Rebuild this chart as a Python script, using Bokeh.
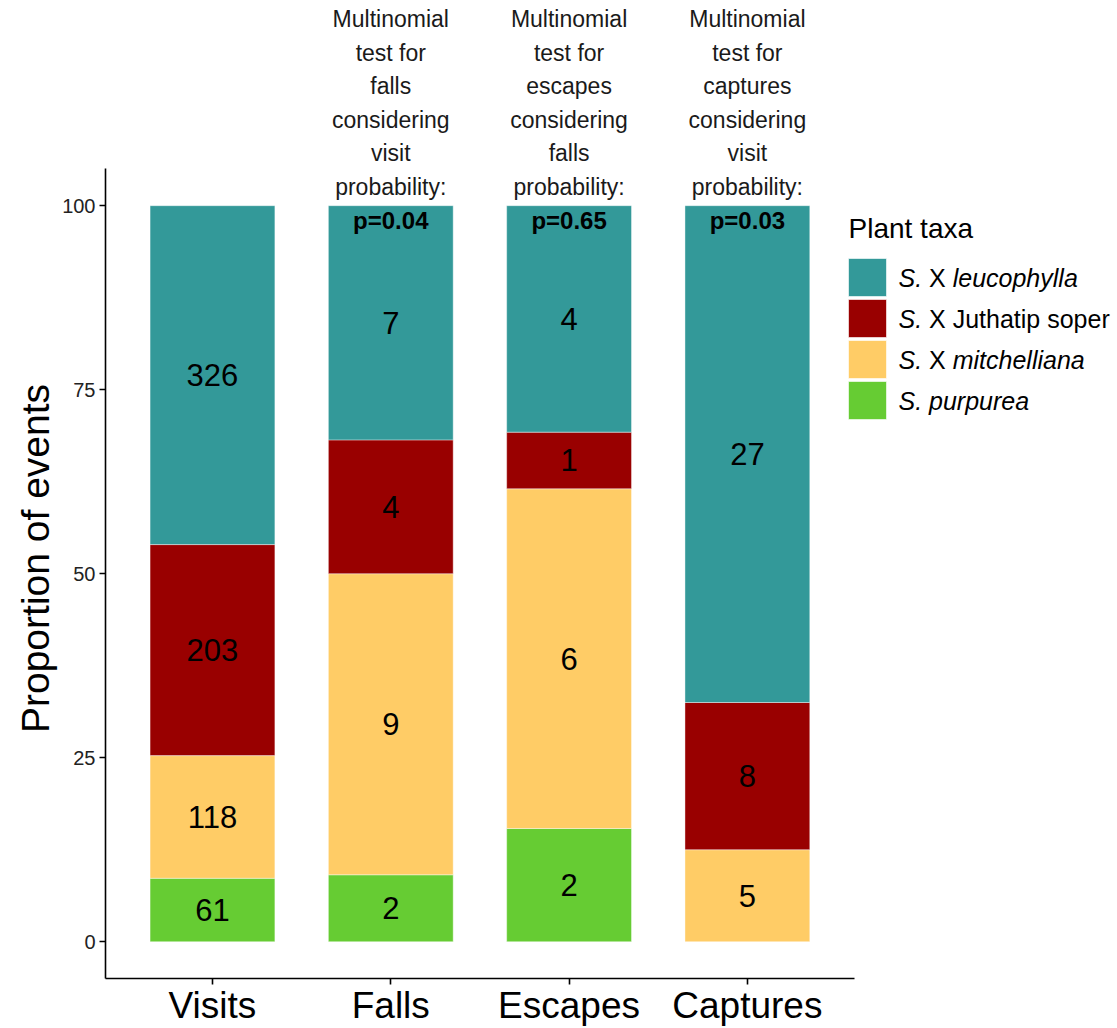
import numpy as np
from bokeh.plotting import figure
from bokeh.models import ColumnDataSource, Range1d, FixedTicker, Title
from bokeh.core.properties import value
from bokeh.embed import file_html
from bokeh.resources import INLINE

# ---------------- data ----------------
categories = ["Visits", "Falls", "Escapes", "Captures"]
purpurea = [61, 2, 2, 0]
mitchelliana = [118, 9, 6, 5]
juthatip = [203, 4, 1, 8]
leucophylla = [326, 7, 4, 27]
colors = {"purpurea": "#66CC33", "mitchelliana": "#FFCC66", "juthatip": "#990000", "leucophylla": "#339999"}
p_values = ["", "p=0.04", "p=0.65", "p=0.03"]
test_lines = [
    [],
    ["Multinomial", "test for", "falls", "considering", "visit", "probability:"],
    ["Multinomial", "test for", "escapes", "considering", "falls", "probability:"],
    ["Multinomial", "test for", "captures", "considering", "visit", "probability:"],
]
y_ticks = [0, 25, 50, 75, 100]
y_title = "Proportion of events"
legend_title = "Plant taxa"

FONT = "Liberation Sans"

# ---------------- layout constants (pixels) ----------------
W, H = 1117, 1028
LEFT = 105          # frame left (y axis line)
BOTTOM_BORDER = 50  # space for x tick labels
FRAME_W = W - LEFT
FRAME_H = H - BOTTOM_BORDER
PX_X = 178.3        # pixels per category step
PX_Y = 7.36         # pixels per percentage point

x_lo, y_lo = 0.4, -5.0
x_hi = x_lo + FRAME_W / PX_X
y_hi = y_lo + FRAME_H / PX_Y

def px2x(px):
    return x_lo + (px - LEFT) / PX_X

def px2y(py):
    return y_lo + (FRAME_H - py) / PX_Y

# ---------------- derived ----------------
xs = np.arange(1, len(categories) + 1)
stack_order = ["purpurea", "mitchelliana", "juthatip", "leucophylla"]
counts = {"purpurea": np.array(purpurea), "mitchelliana": np.array(mitchelliana),
          "juthatip": np.array(juthatip), "leucophylla": np.array(leucophylla)}
totals = sum(counts.values())
props = {k: 100.0 * v / totals for k, v in counts.items()}

src = ColumnDataSource(dict(x=xs, **props))

p = figure(width=W, height=H, x_range=Range1d(x_lo, x_hi), y_range=Range1d(y_lo, y_hi),
           output_backend="svg", toolbar_location=None,
           min_border_left=LEFT, min_border_right=0, min_border_top=0,
           min_border_bottom=BOTTOM_BORDER)
p.outline_line_color = None
p.xgrid.visible = False
p.ygrid.visible = False

p.vbar_stack(stack_order, x="x", width=0.7, source=src,
             color=[colors[k] for k in stack_order],
             line_color="white", line_alpha=0.5, line_width=0.8)

# count labels in the middle of each segment
lx, ly, lt = [], [], []
base = np.zeros(len(categories))
for k in stack_order:
    for i in range(len(categories)):
        if counts[k][i] > 0:
            lx.append(xs[i])
            ly.append(base[i] + props[k][i] / 2)
            lt.append(str(counts[k][i]))
    base = base + props[k]
p.text(x="x", y="y", text="t", source=ColumnDataSource(dict(x=lx, y=ly, t=lt)),
       text_font=value(FONT), text_font_size=value("31px"), text_color="black",
       text_align="center", text_baseline="middle")

# p-values (bold, at top of bars)
px_, py_, pt_ = [], [], []
for i, pv in enumerate(p_values):
    if pv:
        px_.append(xs[i]); py_.append(98.0); pt_.append(pv)
p.text(x="x", y="y", text="t", source=ColumnDataSource(dict(x=px_, y=py_, t=pt_)),
       text_font=value(FONT), text_font_size=value("24px"), text_font_style="bold",
       text_color="black", text_align="center", text_baseline="middle")

# multinomial test descriptions above the bars
ax, ay, at = [], [], []
line_step = 33.5 / PX_Y
for i, lines in enumerate(test_lines):
    n = len(lines)
    for j, ln in enumerate(lines):
        ax.append(xs[i]); ay.append(102.6 + (n - 1 - j) * line_step); at.append(ln)
p.text(x="x", y="y", text="t", source=ColumnDataSource(dict(x=ax, y=ay, t=at)),
       text_font=value(FONT), text_font_size=value("23px"), text_color="#1a1a1a",
       text_align="center", text_baseline="middle")

# ---------------- axes ----------------
p.xaxis.bounds = (x_lo, 4.6)
p.xaxis.ticker = FixedTicker(ticks=list(xs))
p.xaxis.major_label_overrides = {int(x): c for x, c in zip(xs, categories)}
p.xaxis.major_label_text_font = FONT
p.xaxis.major_label_text_font_size = "37px"
p.xaxis.major_label_text_color = "black"
p.xaxis.major_label_standoff = 0
p.xaxis.major_tick_out = 6
p.xaxis.major_tick_in = 0
p.xaxis.minor_tick_line_color = None
p.xaxis.axis_line_width = 1.6
p.xaxis.major_tick_line_width = 1.6

p.yaxis.bounds = (y_lo, 105)
p.yaxis.ticker = FixedTicker(ticks=y_ticks)
p.yaxis.major_label_text_font = FONT
p.yaxis.major_label_text_font_size = "20px"
p.yaxis.major_label_text_color = "#222222"
p.yaxis.major_label_standoff = 4
p.yaxis.major_tick_out = 6
p.yaxis.major_tick_in = 0
p.yaxis.minor_tick_line_color = None
p.yaxis.axis_line_width = 1.6
p.yaxis.major_tick_line_width = 1.6

# y-axis title, placed along the panel (starts 'offset' px above the frame bottom)
TITLE_FS = 39
title_len = 8.949 * TITLE_FS          # Arial-metric advance width of the title
title_center_px = 558
ttl = Title(text=y_title, align="left", offset=FRAME_H - (title_center_px + title_len / 2),
            text_font=FONT, text_font_size=f"{TITLE_FS}px", text_font_style="normal",
            text_color="black", standoff=6)
p.add_layout(ttl, "left")

# ---------------- legend (drawn in the right part of the frame) ----------------
leg_order = ["leucophylla", "juthatip", "mitchelliana", "purpurea"]
KEY_L, KEY_S, KEY_T0, KEY_PITCH = 848, 38, 258, 41
key_cx = px2x(KEY_L + KEY_S / 2)
key_cy = [px2y(KEY_T0 + i * KEY_PITCH + KEY_S / 2) for i in range(4)]
p.rect(x=[key_cx] * 4, y=key_cy, width=KEY_S / PX_X, height=KEY_S / PX_Y,
       color=[colors[k] for k in leg_order], line_color="white", line_alpha=0.6, line_width=1)

p.text(x=[px2x(KEY_L)], y=[px2y(228)], text=[legend_title], text_font=value(FONT),
       text_font_size=value("28px"), text_color="black", text_align="left", text_baseline="middle")

FS = 25
w_S = (0.667 + 0.278) * FS
w_sp = 0.278 * FS
w_X = 0.667 * FS
tx0 = KEY_L + KEY_S + 12
off_X = tx0 + w_S + w_sp
off_rest = tx0 + w_S + 2 * w_sp + w_X
pieces = [  # (px, row, text, italic)
    (tx0, 0, "S.", True), (off_X, 0, "X", False), (off_rest, 0, "leucophylla", True),
    (tx0, 1, "S.", True), (off_X, 1, "X", False), (off_rest, 1, "Juthatip soper", False),
    (tx0, 2, "S.", True), (off_X, 2, "X", False), (off_rest, 2, "mitchelliana", True),
    (tx0, 3, "S. purpurea", True),
]
for ital in (True, False):
    sel = [pc for pc in pieces if pc[3] == ital]
    p.text(x=[px2x(s[0]) for s in sel], y=[key_cy[s[1]] for s in sel], text=[s[2] for s in sel],
           text_font=value(FONT), text_font_size=value(f"{FS}px"),
           text_font_style="italic" if ital else "normal",
           text_color="black", text_align="left", text_baseline="middle")

open("out.html", "w").write(file_html(p, INLINE))
